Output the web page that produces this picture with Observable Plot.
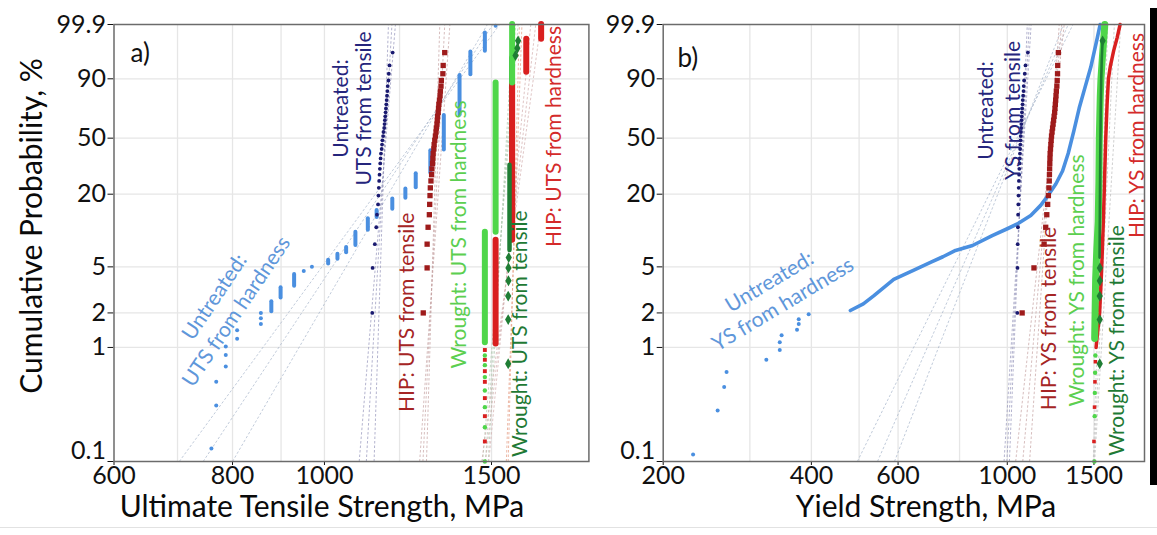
<!DOCTYPE html>
<html><head><meta charset="utf-8">
<script src="https://cdn.jsdelivr.net/npm/d3@7"></script>
<script src="https://cdn.jsdelivr.net/npm/@observablehq/plot@0.6"></script>
<style>
body{margin:0;background:#fff;}
#wrap{position:relative;width:1157px;height:535px;overflow:hidden;font-family:Lato,sans-serif;color:#111;}
#pa{position:absolute;left:0;top:0;width:600px;height:535px;}
#pb{position:absolute;left:600px;top:0;width:557px;height:535px;}
#bar{position:absolute;left:1150px;top:8px;width:7px;height:477px;background:#000;}
.tt{position:absolute;font-size:30px;white-space:nowrap;transform:translate(-50%,-50%);color:#0a0a0a;}
#yt{left:30px;top:226px;transform:translate(-50%,-50%) rotate(-90deg);}
#xa{left:322px;top:505px;}
#xb{left:926px;top:505px;}
#hl{position:absolute;left:0;top:527px;width:1157px;height:1px;background:#e2e2e2;}
</style></head><body>
<div id="wrap"><div id="pa"></div><div id="pb"></div><div id="bar"></div>
<div class="tt" id="yt">Cumulative Probability, %</div>
<div class="tt" id="xa">Ultimate Tensile Strength, MPa</div>
<div class="tt" id="xb">Yield Strength, MPa</div>
<div id="hl"></div></div>
<script>
// ---------- axes ----------
const yTickValues = [0.1, 1, 2, 5, 20, 50, 90, 99.9];
const yTickLabels = ["0.1", "1", "2", "5", "20", "50", "90", "99.9"];
const utsTicks = [600, 800, 1000, 1500];
const ysTicks = [200, 400, 600, 1000, 1500];
const utsGrid = [700, 800, 900, 1000, 1200, 1500];
const ysGrid = [300, 400, 500, 600, 800, 1000, 1500];
const utsDomain = [600, 1900];
const ysDomain = [200, 1900];

// plotting positions (cumulative %) of the 34 tensile specimens
const tensileRanks = [2.0, 4.9, 7.8, 10.8, 13.7, 16.6, 19.5, 22.4, 25.3, 28.2, 31.1, 34.0, 36.9, 39.8, 42.7, 45.6, 48.5, 51.5, 54.4, 57.3, 60.2, 63.1, 66.0, 68.9, 71.8, 74.7, 77.6, 80.5, 83.4, 86.3, 89.2, 92.2, 95.1, 98.0];

// ---------- panel a : UTS ----------
const utsUntreatedTensile = [1123, 1124, 1130, 1134, 1136, 1139, 1140, 1141, 1142, 1143, 1144, 1145, 1146, 1147, 1149, 1150, 1151, 1153, 1154, 1156, 1157, 1158, 1159, 1160, 1161, 1162, 1163, 1164, 1165, 1166, 1168, 1169, 1171, 1180];
const utsHipTensile = [1271, 1283, 1283, 1286, 1290, 1291, 1292, 1293, 1295, 1297, 1298, 1300, 1301, 1302, 1304, 1305, 1307, 1309, 1311, 1312, 1314, 1315, 1316, 1318, 1319, 1320, 1322, 1324, 1325, 1327, 1328, 1333, 1334, 1339];
// [MPa, %]
const utsUntreatedHardnessPts = [[760, 0.13], [769, 0.31], [769, 0.5], [787, 0.68], [787, 0.86], [787, 1.02], [809, 1.19], [809, 1.41], [857, 1.6], [857, 1.8], [857, 2.0], [951, 4.6], [970, 5.0], [1515, 99.88]];
// tied values: [MPa, lowest %, highest %]
const utsUntreatedHardnessRuns = [[879, 2.05, 2.5], [899, 2.7, 3.3], [929, 3.4, 4.3], [1009, 5.3, 5.7], [1032, 5.8, 6.4], [1054, 6.6, 7.3], [1078, 7.6, 9.8], [1111, 10.2, 12.7], [1135, 13.0, 14.8], [1179, 15.2, 18.3], [1217, 18.6, 22.0], [1248, 22.4, 28.6], [1293, 29.0, 41.5], [1336, 42.0, 66.6], [1388, 67.0, 91.5], [1425, 91.8, 98.1], [1476, 98.2, 99.7]];
const utsHipHardnessRuns = [[1515, 1.07, 8.4], [1577, 8.4, 87], [1632, 92.8, 99.4], [1692, 99.4, 99.9]];
const utsHipHardnessLow = [[1476, 0.15], [1476, 0.25], [1476, 0.36], [1476, 0.5], [1476, 0.62], [1476, 0.78], [1476, 0.95]];
const utsWroughtHardnessRuns = [[1476, 1.1, 9.8], [1515, 9.8, 88], [1577, 88, 99.9]];
const utsWroughtHardnessLow = [[1476, 0.1], [1476, 0.2], [1476, 0.3], [1476, 0.42], [1476, 0.55], [1476, 0.7], [1476, 0.85]];
const utsWroughtTensileLowRun = [[1567, 6.9, 33]];
const utsWroughtTensileHighRun = [[1574, 33, 97]];
const utsWroughtTensilePts = [[1562, 0.72], [1562, 1.75], [1562, 2.8], [1563, 3.8], [1563, 4.9], [1564, 6.0], [1590, 97.5], [1597, 98.6], [1600, 99.3]];
// fitted lines: [MPa at 0.1 %, MPa at 99.9 %]
const fitUtsUntreatedHardness = [[703, 1530], [745, 1505], [800, 1485]];
const fitUtsUntreatedTensile = [[1088, 1188], [1107, 1178], [1128, 1168]];
const fitUtsHipTensile = [[1260, 1356], [1270, 1339], [1281, 1323]];
const fitUtsWroughtHardness = [[1468, 1600], [1478, 1590], [1488, 1580]];
const fitUtsWroughtTensile = [[1555, 1615], [1562, 1605]];
const fitUtsHipHardness = [[1465, 1690], [1478, 1670], [1490, 1650]];

// ---------- panel b : YS ----------
const ysUntreatedTensile = [1048, 1049, 1050, 1051, 1052, 1053, 1054, 1055, 1056, 1057, 1058, 1059, 1060, 1061, 1062, 1063, 1064, 1065, 1066, 1067, 1068, 1069, 1070, 1071, 1072, 1074, 1075, 1077, 1079, 1080, 1082, 1085, 1089, 1101];
const ysHipTensile = [1072, 1133, 1188, 1197, 1203, 1208, 1212, 1215, 1217, 1218, 1219, 1220, 1221, 1222, 1224, 1226, 1228, 1230, 1233, 1236, 1239, 1242, 1245, 1248, 1250, 1252, 1254, 1256, 1258, 1261, 1263, 1265, 1266, 1270];
const ysUntreatedHardnessPts = [[230, 0.115], [258, 0.28], [266, 0.45], [269, 0.61], [324, 0.78], [345, 0.95], [345, 1.11], [348, 1.28], [374, 1.43], [377, 1.6], [377, 1.76], [395, 1.95]];
const ysUntreatedHardnessCurve = [[480, 2.1], [510, 2.4], [536, 2.83], [588, 3.9], [646, 4.7], [700, 5.5], [740, 6.1], [785, 6.9], [850, 7.6], [932, 9.2], [1000, 10.5], [1048, 11.5], [1116, 13.5], [1169, 16.3], [1210, 19.5], [1255, 24], [1295, 30], [1330, 40], [1365, 55], [1400, 72], [1440, 86], [1478, 94.6], [1524, 99.5], [1544, 99.9]];
const ysHipHardnessCurve = [[1515, 1], [1540, 2], [1552, 4], [1560, 7], [1570, 15], [1578, 30], [1585, 50], [1595, 75], [1605, 90], [1620, 95], [1645, 98.3], [1672, 99.5], [1695, 99.9]];
const ysHipHardnessLow = [[1500, 0.15], [1504, 0.3], [1507, 0.5], [1510, 0.75]];
const ysWroughtHardnessCurve = [[1505, 1.2], [1508, 2], [1512, 4], [1520, 7], [1530, 12], [1535, 25], [1538, 50], [1545, 80], [1550, 90], [1560, 97], [1578, 99.9]];
const ysWroughtHardnessLow = [[1503, 0.1], [1505, 0.25], [1506, 0.4], [1508, 0.6], [1510, 0.85]];
const ysWroughtTensileCurve = [[1540, 6], [1542, 15], [1545, 40], [1548, 70], [1552, 90], [1556, 97], [1562, 99.3]];
const ysWroughtTensilePts = [[1541, 0.72], [1541, 1.75], [1541, 2.8], [1542, 3.8], [1542, 4.9], [1562, 99.3]];
const fitYsUntreatedHardness = [[496, 1360], [545, 1330], [590, 1300]];
const fitYsUntreatedTensile = [[985, 1118], [998, 1108], [1010, 1098]];
const fitYsHipTensile = [[1040, 1305], [1075, 1290], [1110, 1275]];
const fitYsWrought = [[1495, 1600], [1500, 1650], [1505, 1700]];

// ---------- helpers ----------
const W = p => Math.log(-Math.log(1 - p / 100));   // Weibull probability scale
const yFmt = v => {
  let bi = 0;
  yTickValues.forEach((t, i) => { if (Math.abs(W(t) - v) < Math.abs(W(yTickValues[bi]) - v)) bi = i; });
  return bi === 0 ? "" : yTickLabels[bi];
};
const C = {uh: "#4a8fe0", ut: "#1a1a70", ht: "#9e1b1b", hh: "#d91f1f", wh: "#4fd64a", wt: "#1f7d34"};
const L = {uh: "#5f97da", ut: "#25257c", ht: "#a52525", hh: "#d42a2a", wh: "#5ccf50", wt: "#1f7a35"};

const fitLinks = (lines, color) => Plot.link(lines, {
  x1: d => d[0], x2: d => d[1], y1: () => W(0.1), y2: () => W(99.9),
  stroke: color, strokeWidth: 0.9, strokeDasharray: "2.5,2", strokeOpacity: 0.75
});
const runs = (data, color, w) => Plot.ruleX(data, {x: d => d[0], y1: d => W(d[1]), y2: d => W(d[2]), stroke: color, strokeWidth: w, strokeLinecap: "round"});
const pts = (data, color, r, symbol = "circle") => Plot.dot(data, {x: d => d[0], y: d => W(d[1]), r, fill: color, symbol, stroke: "none"});
const ranked = (xs, color, r, symbol = "circle") => Plot.dot(xs, {x: d => d, y: (d, i) => W(tensileRanks[i]), r, fill: color, symbol, stroke: "none"});
const curve = (data, color, w) => Plot.line(data, {x: d => d[0], y: d => W(d[1]), stroke: color, strokeWidth: w, strokeLinecap: "round", strokeLinejoin: "round"});
const label = (text, x, p, color, rotate, extra = {}) => Plot.text([text], {x: () => x, y: () => W(p), text: d => d, rotate, fill: color, fontSize: 21, lineHeight: 1.25, ...extra});

function panel(width, marginLeft, marginRight, xDomain, xTicks, gridX, marks) {
  return Plot.plot({
    width, height: 535, marginLeft, marginRight, marginTop: 24, marginBottom: 74,
    style: {fontFamily: "Lato, sans-serif", fontSize: "25px", color: "#111", background: "transparent", overflow: "visible"},
    x: {type: "log", domain: xDomain, ticks: xTicks, tickFormat: d => String(d), tickSize: 4, tickPadding: 1, label: null},
    y: {type: "linear", domain: [W(0.1), W(99.9)], ticks: yTickValues.map(W), tickFormat: yFmt, tickSize: 6, tickPadding: 2, label: null},
    color: {type: "identity"},
    marks: [
      Plot.ruleX(gridX, {stroke: "#e6e6e6", strokeWidth: 1.3}),
      Plot.ruleY(yTickValues.slice(1, -1).map(W), {stroke: "#e6e6e6", strokeWidth: 1.3}),
      ...marks,
      Plot.frame({stroke: "#6b6b6b", strokeWidth: 1.5}),
      Plot.text([yTickLabels[0]], {x: () => xDomain[0], y: () => W(yTickValues[0]), text: d => d, textAnchor: "end", dx: -8, dy: -11, fontSize: 25, fill: "#111"})
    ]
  });
}

const aMarks = [
  fitLinks(fitUtsUntreatedHardness, "#a3b1c8"),
  fitLinks(fitUtsUntreatedTensile, "#8e8eb6"),
  fitLinks(fitUtsHipTensile, "#c29c9c"),
  fitLinks(fitUtsWroughtHardness, "#a9c4a9"),
  fitLinks(fitUtsWroughtTensile, "#e3957a"),
  fitLinks(fitUtsHipHardness, "#cfa9a9"),
  runs(utsUntreatedHardnessRuns, C.uh, 4),
  pts(utsUntreatedHardnessPts, C.uh, 2),
  ranked(utsUntreatedTensile, C.ut, 1.9),
  ranked(utsHipTensile, C.ht, 3, "square"),
  runs(utsWroughtTensileHighRun, C.wt, 4.5),
  runs(utsHipHardnessRuns, C.hh, 6),
  pts(utsHipHardnessLow, C.hh, 2.2, "square"),
  runs(utsWroughtHardnessRuns, C.wh, 6),
  pts(utsWroughtHardnessLow, C.wh, 2.2),
  runs(utsWroughtTensileLowRun, C.wt, 4.5),
  pts(utsWroughtTensilePts, C.wt, 3.3, "diamond"),
  label("Untreated:\nUTS from hardness", 784, 2.42, L.uh, -56),
  label("Untreated:\nUTS from tensile", 1069, 71.7, L.ut, -90, {lineHeight: 1.1}),
  label("HIP: UTS from tensile", 1217, 2.02, L.ht, -90),
  label("Wrought: UTS from hardness", 1381, 9.4, L.wh, -90),
  label("Wrought: UTS from tensile", 1602, 1.32, L.wt, -90),
  label("HIP: UTS from hardness", 1739, 51.2, L.hh, -90),
  label("a)", 624.5, 98.17, "#111", 0, {fontSize: 26, textAnchor: "start"})
];

const bMarks = [
  fitLinks(fitYsUntreatedHardness, "#a3b1c8"),
  fitLinks(fitYsUntreatedTensile, "#8e8eb6"),
  fitLinks(fitYsHipTensile, "#c29c9c"),
  fitLinks(fitYsWrought, "#b8b8b8"),
  curve(ysUntreatedHardnessCurve, C.uh, 3.6),
  pts(ysUntreatedHardnessPts, C.uh, 2),
  ranked(ysUntreatedTensile, C.ut, 1.9),
  ranked(ysHipTensile, C.ht, 3, "square"),
  curve(ysHipHardnessCurve, C.hh, 3.5),
  pts(ysHipHardnessLow, C.hh, 2, "square"),
  curve(ysWroughtHardnessCurve, C.wh, 7),
  pts(ysWroughtHardnessLow, C.wh, 2.2),
  curve(ysWroughtTensileCurve, C.wt, 2.6),
  pts(ysWroughtTensilePts, C.wt, 3.3, "diamond"),
  label("Untreated:\nYS from hardness", 338, 3.05, L.uh, -31),
  label("Untreated:\nYS from tensile", 958, 70.3, L.ut, -90),
  label("HIP: YS from tensile", 1206, 1.79, L.ht, -90),
  label("Wrought: YS from hardness", 1377, 3.82, L.wh, -90),
  label("Wrought: YS from tensile", 1660, 1.15, L.wt, -90),
  label("HIP: YS from hardness", 1824, 51.9, L.hh, -90),
  label("b)", 213.8, 97.3, "#111", 0, {fontSize: 26, textAnchor: "start"})
];

document.getElementById("pa").append(panel(600, 113.5, 11.6, utsDomain, utsTicks, utsGrid, aMarks));
document.getElementById("pb").append(panel(557, 62.7, 13, ysDomain, ysTicks, ysGrid, bMarks));
</script>
</body></html>
